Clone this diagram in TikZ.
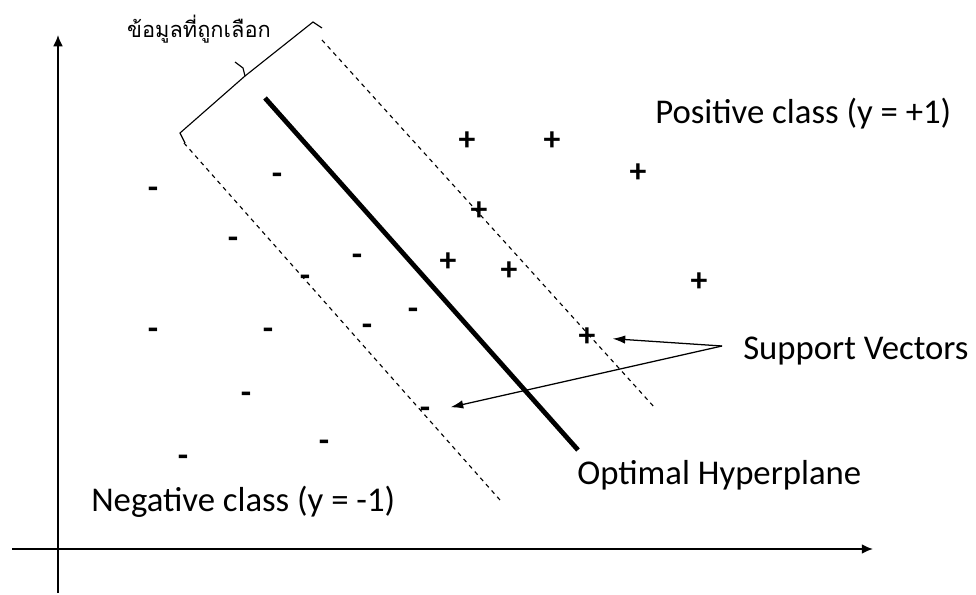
\documentclass[tikz,border=0pt]{standalone}
\usepackage{fontspec}
\setmainfont{Carlito}
\newfontfamily\thaifont[Script=Thai]{Loma}
\usetikzlibrary{arrows.meta}
\begin{document}
\begin{tikzpicture}[x=0.025cm,y=-0.025cm,
  pt/.style={inner sep=0pt, minimum width=36pt, minimum height=14pt, font=\fontsize{24}{28}\selectfont\bfseries},
  lbl/.style={inner sep=0pt, anchor=west, font=\fontsize{24.7}{28}\selectfont},
  svarrow/.style={-{Latex[length=9pt,width=6pt]}, line width=0.9pt}]
\useasboundingbox (0,0) rectangle (976,594);
% axes
\draw[line width=1.2pt, -{Latex[length=8pt,width=7pt]}] (58,593) -- (58,35);
\draw[line width=1.2pt, -{Latex[length=8pt,width=7pt]}] (12,549) -- (873,549);
% margin lines and hyperplane
\draw[dashed, line width=0.8pt] (322,40) -- (655,408);
\draw[dashed, line width=0.8pt] (184,143) -- (500,500);
\draw[line width=3.4pt] (265,98) -- (578,450);
% bracket
\draw[line width=0.8pt] (185,143) -- (180,133) -- (245,76) -- (313,22) -- (322,28);
\draw[line width=0.8pt] (245,76) -- (243,68) -- (235,62);
\node[inner sep=0pt, font=\thaifont\fontsize{15.5}{18}\selectfont] (sel) at (199,29) {ข้อมูลที่ถูกเลือก};
% positive points
\node[pt] (p1) at (467,141) {+};
\node[pt] (p2) at (552,141) {+};
\node[pt] (p3) at (638,173) {+};
\node[pt] (p4) at (479,211) {+};
\node[pt] (p5) at (448,262) {+};
\node[pt] (p6) at (509,271) {+};
\node[pt] (p7) at (699,282) {+};
\node[pt] (p8) at (587,337) {+};
% negative points
\node[pt] (m1) at (153,193) {-};
\node[pt] (m2) at (277,179) {-};
\node[pt] (m3) at (233,243) {-};
\node[pt] (m4) at (357,260) {-};
\node[pt] (m5) at (305,281) {-};
\node[pt] (m6) at (413,314) {-};
\node[pt] (m7) at (153,334) {-};
\node[pt] (m8) at (268,334) {-};
\node[pt] (m9) at (367,330) {-};
\node[pt] (m10) at (246,398) {-};
\node[pt] (m11) at (324,446) {-};
\node[pt] (m12) at (183,461) {-};
\node[pt] (m13) at (425,413) {-};
% labels
\node[lbl] (pos) at (655,114) {Positive class (y = +1)};
\node[lbl] (sv) at (743,351) {Support Vectors};
\node[lbl] (opt) at (577,475) {Optimal Hyperplane};
\node[lbl] (neg) at (91,502) {Negative class (y = -1)};
\coordinate (fork) at (722,346);
\draw[svarrow] (fork) -- (p8);
\draw[svarrow] (fork) -- (m13);
\end{tikzpicture}
\end{document}
